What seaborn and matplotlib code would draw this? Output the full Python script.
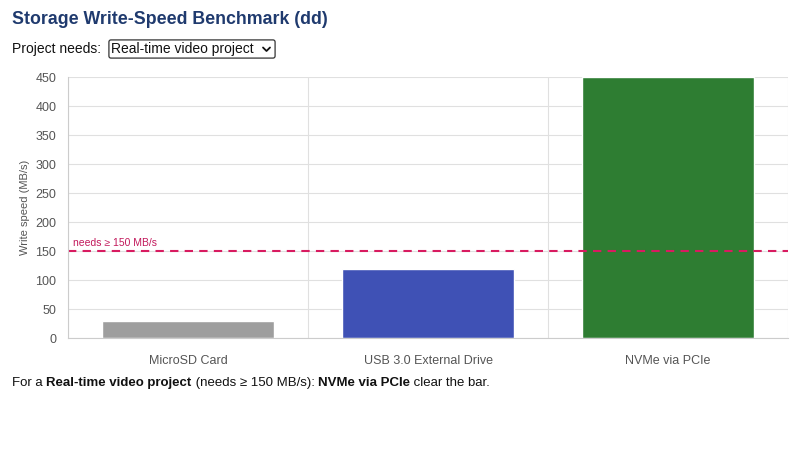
import matplotlib
matplotlib.use("Agg")
import matplotlib.pyplot as plt
from matplotlib.lines import Line2D
import seaborn as sns
import pandas as pd

# chart data
devices = ["MicroSD Card", "USB 3.0 External Drive", "NVMe via PCIe"]
write_speed = [30, 120, 450]
bar_colors = ["#9e9e9e", "#3f51b5", "#2e7d32"]
need_speed = 150
project = "Real-time video project"
y_ticks = [0, 50, 100, 150, 200, 250, 300, 350, 400, 450]

sns.set_style("white")
plt.rcParams['font.family'] = ['Liberation Sans', 'DejaVu Sans']

df = pd.DataFrame({'device': devices, 'speed': write_speed})

fig = plt.figure(figsize=(8, 4.62), dpi=100)
ax = fig.add_axes([0.085, 0.268, 0.90, 0.565])

sns.barplot(data=df, x='device', y='speed', hue='device', palette=bar_colors,
            width=0.72, legend=False, ax=ax, saturation=1)

ax.set_ylim(0, 450)
ax.set_xlim(-0.5, 2.5)
ax.set_yticks(y_ticks)
ax.set_xticks([-0.5, 0.5, 1.5, 2.5], minor=True)

# grid
ax.grid(axis='y', color='#e0e0e0', linewidth=0.8)
ax.grid(axis='x', which='minor', color='#e0e0e0', linewidth=0.8)
ax.set_axisbelow(True)
for side in ['top', 'right']:
    ax.spines[side].set_visible(False)
for side in ['left', 'bottom']:
    ax.spines[side].set_color('#cccccc')
    ax.spines[side].set_linewidth(0.8)
ax.tick_params(axis='x', which='major', length=0, labelsize=9, colors='#555555', pad=12)
ax.tick_params(axis='x', which='minor', length=6, color='#dddddd')
ax.tick_params(axis='y', length=5, color='#dddddd', labelsize=9, labelcolor='#555555')
ax.set_xlabel('')
ax.set_ylabel('Write speed (MB/s)', fontsize=8, color='#555555')

# threshold line
ax.axhline(need_speed, color='#d81b60', linestyle=(0, (4, 3)), linewidth=1.5)
ax.text(-0.48, need_speed + 6, f'needs \u2265 {need_speed} MB/s', color='#c2185b',
        fontsize=7.5, va='bottom', ha='left')

# header
fig.text(12 / 800, 1 - 20 / 462, 'Storage Write-Speed Benchmark (dd)', fontsize=12.8,
         fontweight='bold', color='#1f3a6e', va='center')
fig.text(12 / 800, 1 - 49 / 462, 'Project needs:', fontsize=10, color='#111111', va='center')
fig.text(111 / 800, 1 - 49 / 462, project + '     ', fontsize=10, color='#111111', va='center',
         bbox=dict(boxstyle='round,pad=0.15', facecolor='white', edgecolor='#333333', linewidth=0.9))
# dropdown chevron
fig.add_artist(Line2D([263 / 800, 266.5 / 800, 270 / 800],
                      [1 - 47.5 / 462, 1 - 51 / 462, 1 - 47.5 / 462],
                      color='#111111', linewidth=1.3, transform=fig.transFigure, zorder=10))

# footer with bold parts
passing = [d for d, s in zip(devices, write_speed) if s >= need_speed]
parts = [("For a ", 'normal'), (project, 'bold'),
         (f" (needs \u2265 {need_speed} MB/s): ", 'normal'),
         (", ".join(passing), 'bold'), (" clear the bar.", 'normal')]
prev = fig.text(12 / 800, 1 - 386 / 462, parts[0][0], fontsize=9.5, color='#111111',
                va='baseline', fontweight=parts[0][1])
for txt, w in parts[1:]:
    prev = ax.annotate(txt, xy=(1, 0), xycoords=prev, va='bottom', ha='left',
                       fontsize=9.5, color='#111111', fontweight=w,
                       annotation_clip=False)

fig.savefig('out.png', dpi=100)
